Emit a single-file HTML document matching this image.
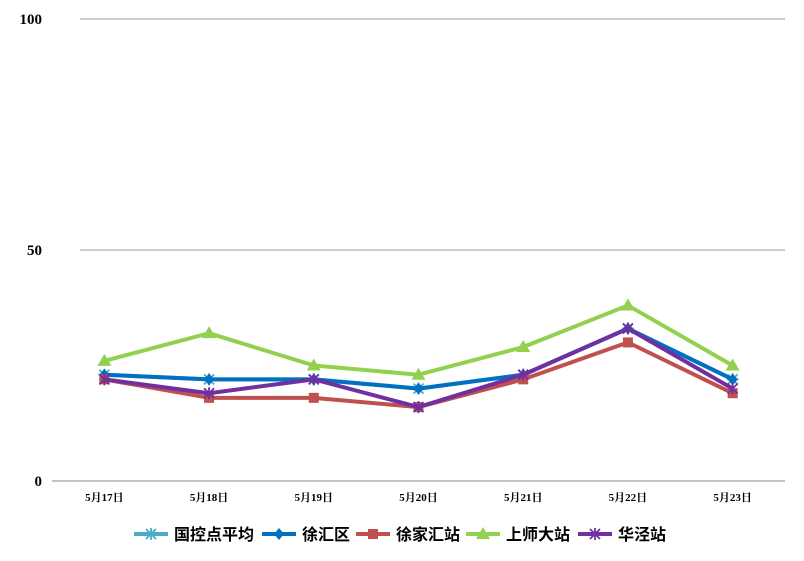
<!DOCTYPE html>
<html><head><meta charset="utf-8"><style>
body{margin:0;background:#fff;}
svg{display:block;}
.ax{font-family:"Liberation Serif","Noto Serif CJK SC",serif;font-weight:bold;}
.lg{font-family:"Liberation Sans","Noto Sans CJK SC",sans-serif;font-weight:bold;font-size:16px;}
</style></head><body>
<svg id="c" width="804" height="561"></svg>
<script>
const categories=["5月17日","5月18日","5月19日","5月20日","5月21日","5月22日","5月23日"];
const seriesNames=["国控点平均","徐汇区","徐家汇站","上师大站","华泾站"];
const sGuokong=[23,22,22,20,23,33,22];
const sXuhui=[23,22,22,20,23,33,22];
const sXujiahui=[22,18,18,16,22,30,19];
const sShida=[26,32,25,23,29,38,25];
const sHuajing=[22,19,22,16,23,33,20];
const yTicks=[0,50,100];
const colors=["#4bacc6","#0070c0","#c0504d","#92d050","#7030a0"];
const markers=["star","diamond","square","triangle","xstar"];
const allSeries=[sGuokong,sXuhui,sXujiahui,sShida,sHuajing];
const NS="http://www.w3.org/2000/svg";
const svg=document.getElementById('c');
const L=52,R=785,T=19,B=481;
const x=i=>L+(R-L)/categories.length*(i+0.5);
const y=v=>B-(B-T)*v/100;
function el(t,a,p){const e=document.createElementNS(NS,t);for(const k in a)e.setAttribute(k,a[k]);(p||svg).appendChild(e);return e;}
yTicks.forEach(t=>{
  const g=el('line',{x1:t===0?L:80,x2:R,y1:y(t),y2:y(t),stroke:t===0?'#888':'#999','stroke-width':1});
  
  
  const tx=el('text',{x:42,y:y(t)+5,'text-anchor':'end','font-size':15,class:'ax'});
  tx.textContent=t;
  
  
});
categories.forEach((c,i)=>{
  const tx=el('text',{x:x(i),y:501,'text-anchor':'middle','font-size':11,class:'ax'});
  tx.textContent=c;
  
  
});
function marker(type,cx,cy,col,p){
  let m;
  if(type==='diamond')m=el('polygon',{points:`${cx},${cy-6} ${cx+5},${cy} ${cx},${cy+6} ${cx-5},${cy}`,fill:col},p);
  else if(type==='square')m=el('rect',{x:cx-5,y:cy-5,width:10,height:10,fill:col},p);
  else if(type==='triangle')m=el('polygon',{points:`${cx},${cy-7} ${cx+7},${cy+5} ${cx-7},${cy+5}`,fill:col},p);
  else{m=el('path',{d:`M${cx-5},${cy-5}L${cx+5},${cy+5}M${cx-5},${cy+5}L${cx+5},${cy-5}M${cx},${cy-6}L${cx},${cy+6}`+(type==='star'?`M${cx-6},${cy}L${cx+6},${cy}`:''),stroke:col,'stroke-width':1.8,fill:'none'},p);}
  return m;
}
allSeries.forEach((s,k)=>{
  const g=el('g',{});
  
  
  const pl=el('polyline',{points:s.map((v,i)=>x(i)+','+y(v)).join(' '),fill:'none',stroke:colors[k],'stroke-width':4,'stroke-linejoin':'round'},g);
  
  
  s.forEach((v,i)=>{
    const m=marker(markers[k],x(i),y(v),colors[k],g);
    
    
  });
});
const legX=[134,262,356,466,578];
seriesNames.forEach((n,k)=>{
  const g=el('g',{});
  
  
  el('line',{x1:legX[k],x2:legX[k]+34,y1:534,y2:534,stroke:colors[k],'stroke-width':4},g);
  marker(markers[k],legX[k]+17,534,colors[k],g);
  const t=el('text',{x:legX[k]+40,y:540,class:'lg'},g);
  t.textContent=n;
});
</script>
</body></html>
